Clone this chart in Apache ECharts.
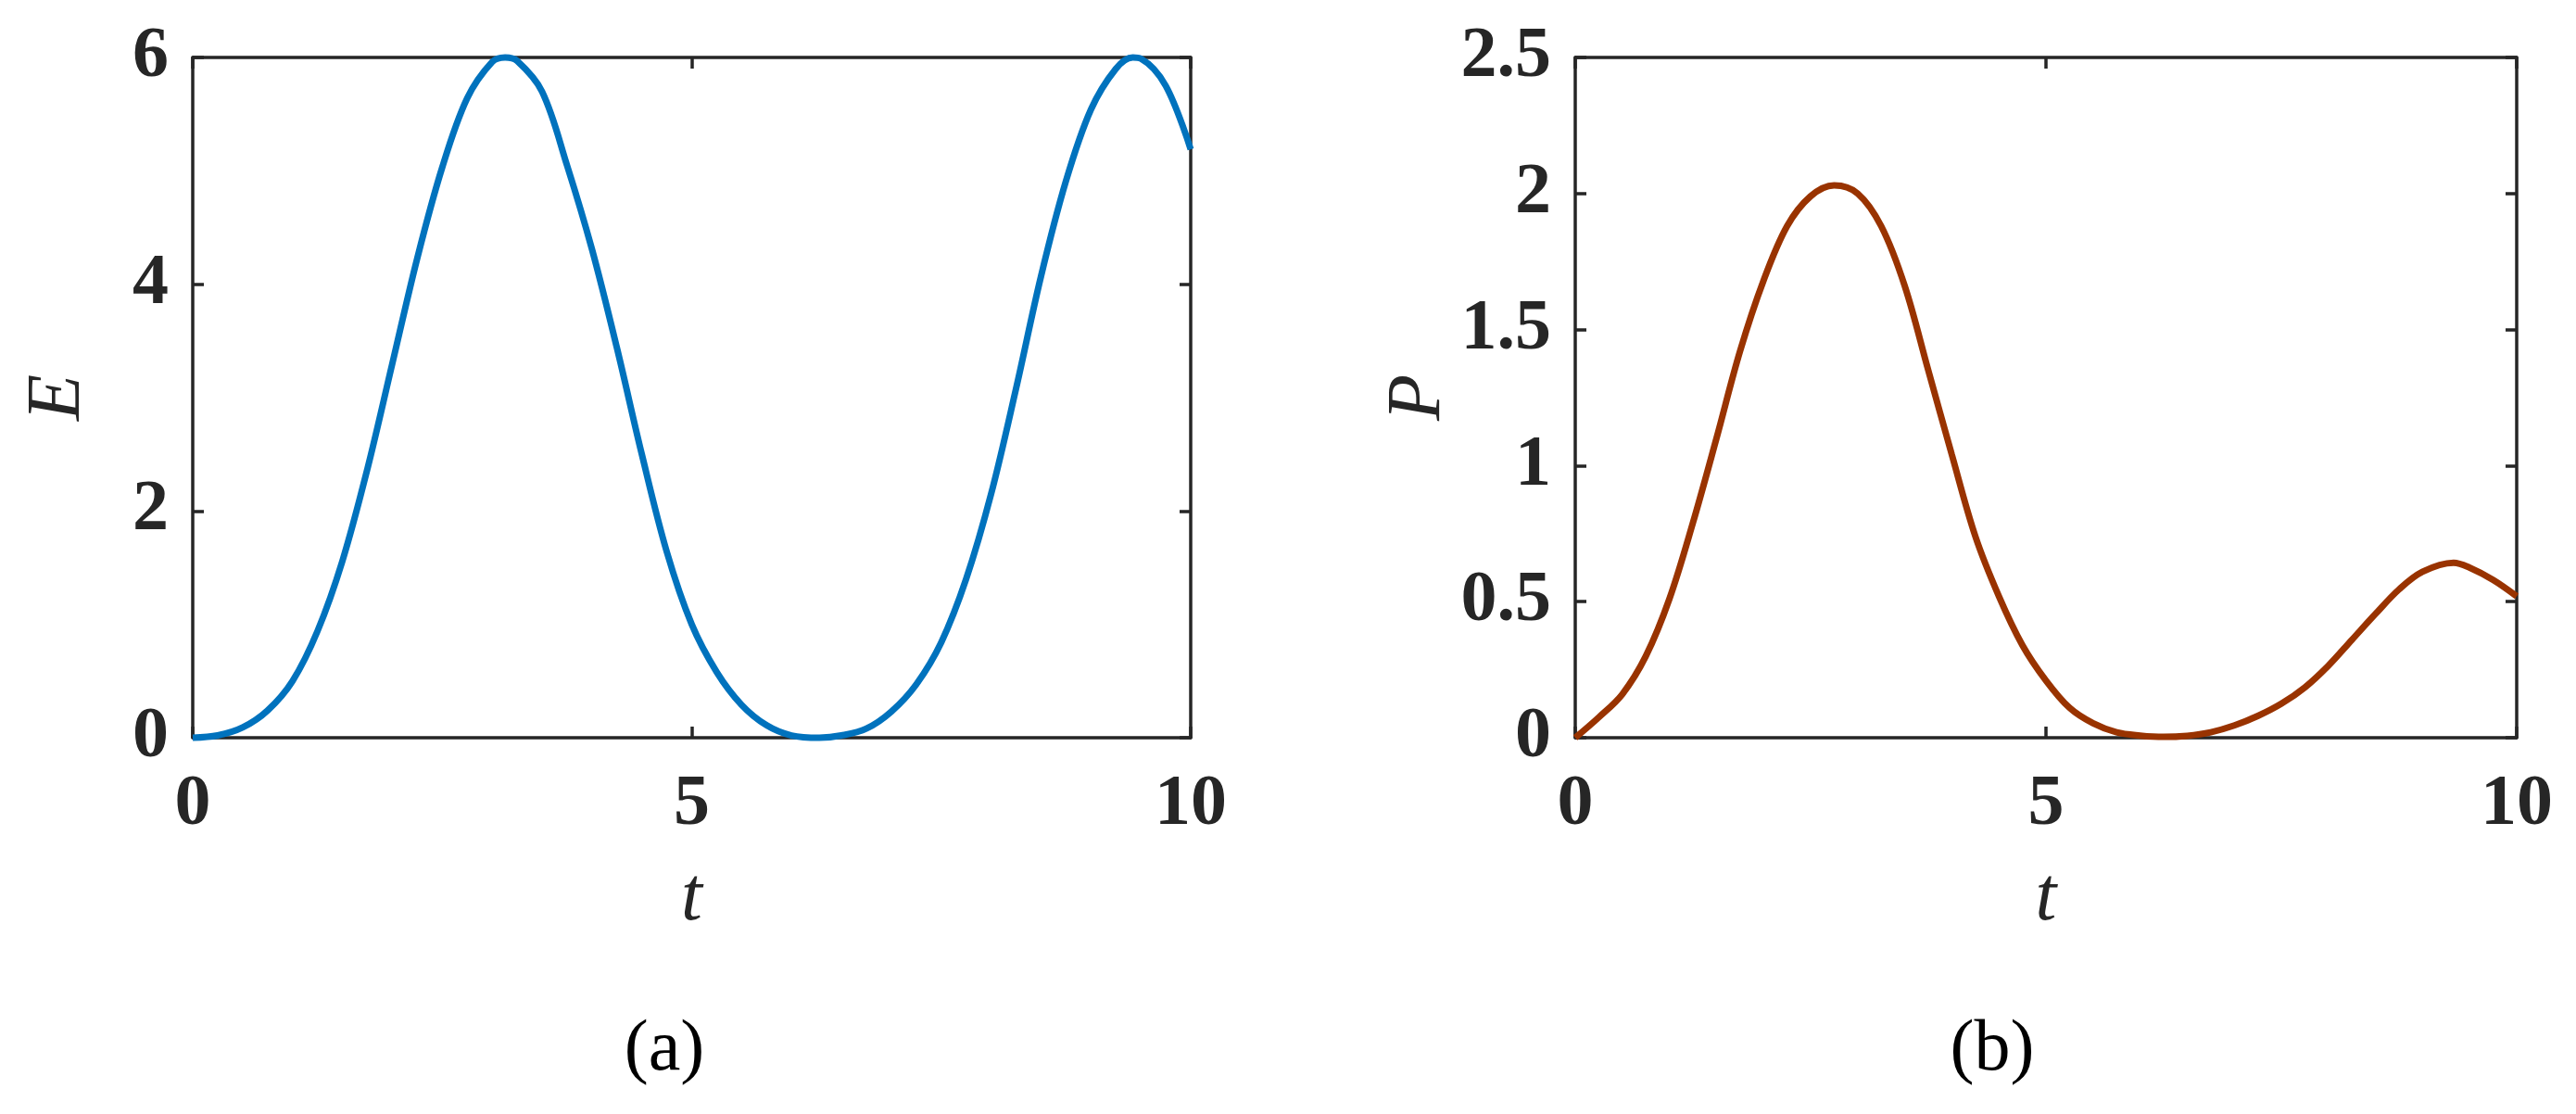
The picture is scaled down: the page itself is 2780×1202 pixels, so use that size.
<!DOCTYPE html>
<html>
<head>
<meta charset="utf-8">
<script src="https://cdn.jsdelivr.net/npm/echarts@6/dist/echarts.min.js"></script>
<style>
html,body{margin:0;padding:0;background:#fff;}
#chart{width:2780px;height:1202px;}
</style>
</head>
<body>
<div id="chart"></div>
<script>
// ---- data ----
const tE = [0,0.25,0.5,0.75,1,1.25,1.5,1.75,2,2.25,2.5,2.75,3,3.13,3.25,3.5,3.75,4,4.25,4.5,4.75,5,
            5.25,5.5,5.75,6,6.28,6.5,6.75,7,7.25,7.5,7.75,8,8.25,8.5,8.75,9,9.25,9.42,9.5,9.75,10];
const eValues = [0,0.02,0.09,0.24,0.50,0.94,1.56,2.37,3.30,4.23,5.03,5.64,5.96,6.00,5.97,5.70,5.05,4.31,3.44,2.50,1.64,1.00,
                 0.58,0.29,0.11,0.02,0.00,0.02,0.08,0.23,0.47,0.84,1.40,2.15,3.08,4.07,4.91,5.54,5.90,6.00,5.99,5.75,5.19];
const tP = [0,0.25,0.5,0.75,1,1.25,1.5,1.75,2,2.25,2.5,2.75,3,3.25,3.5,3.75,4,4.25,4.5,4.75,5,
            5.25,5.5,5.75,6,6.25,6.5,6.75,7,7.25,7.5,7.75,8,8.25,8.5,8.75,9,9.33,9.5,9.75,10];
const pValues = [0,0.075,0.16,0.30,0.51,0.79,1.10,1.42,1.68,1.88,1.99,2.03,2.00,1.88,1.66,1.35,1.04,0.74,0.52,0.34,0.21,
                 0.11,0.053,0.02,0.008,0.003,0.007,0.02,0.045,0.08,0.125,0.185,0.265,0.36,0.455,0.545,0.61,0.643,0.625,0.58,0.52];
const xTicks = [0,5,10];
const eTicks = [0,2,4,6];
const pTicks = [0,0.5,1,1.5,2,2.5];
const panelLabels = ['(a)','(b)'];
const yNames = ['E','P'];
const xName = 't';

const ink = '#262626';
const tickFont = {fontFamily:'"Liberation Serif", serif', fontWeight:'bold', fontSize:78, color:ink};

function mainX(gi){
  return {gridIndex:gi, type:'value', min:xTicks[0], max:xTicks[xTicks.length-1], interval:xTicks[1]-xTicks[0],
    name:xName, nameLocation:'middle', nameGap:133,
    nameTextStyle:{fontFamily:'"Liberation Serif", serif', fontStyle:'italic', fontSize:82, color:ink},
    axisLine:{show:true, onZero:false, lineStyle:{color:ink, width:3.5}},
    axisTick:{show:true, inside:true, length:12, lineStyle:{color:ink, width:3.5}},
    axisLabel:Object.assign({margin:34}, tickFont),
    splitLine:{show:false}};
}
function mirrorX(gi){
  return {gridIndex:gi, type:'value', position:'top', min:xTicks[0], max:xTicks[xTicks.length-1], interval:xTicks[1]-xTicks[0],
    axisLine:{show:true, onZero:false, lineStyle:{color:ink, width:3.5}},
    axisTick:{show:true, inside:true, length:12, lineStyle:{color:ink, width:3.5}},
    axisLabel:{show:false}, splitLine:{show:false}};
}
function mainY(gi, ticks, name, gap){
  return {gridIndex:gi, type:'value', min:ticks[0], max:ticks[ticks.length-1], interval:ticks[1]-ticks[0],
    name:name, nameLocation:'middle', nameGap:gap, nameRotate:90,
    nameTextStyle:{fontFamily:'"Liberation Serif", serif', fontStyle:'italic', fontSize:82, color:ink},
    axisLine:{show:true, onZero:false, lineStyle:{color:ink, width:3.5}},
    axisTick:{show:true, inside:true, length:12, lineStyle:{color:ink, width:3.5}},
    axisLabel:Object.assign({margin:26}, tickFont),
    splitLine:{show:false}};
}
function mirrorY(gi, ticks){
  return {gridIndex:gi, type:'value', position:'right', min:ticks[0], max:ticks[ticks.length-1], interval:ticks[1]-ticks[0],
    axisLine:{show:true, onZero:false, lineStyle:{color:ink, width:3.5}},
    axisTick:{show:true, inside:true, length:12, lineStyle:{color:ink, width:3.5}},
    axisLabel:{show:false}, splitLine:{show:false}};
}

const chart = echarts.init(document.getElementById('chart'), null, {renderer:'canvas'});
chart.setOption({
  backgroundColor:'#ffffff',
  animation:false,
  grid:[
    {left:208, top:62, width:1077, height:734},
    {left:1700, top:62, width:1016, height:734}
  ],
  xAxis:[mainX(0), mirrorX(0), mainX(1), mirrorX(1)],
  yAxis:[mainY(0, eTicks, yNames[0], 104), mirrorY(0, eTicks), mainY(1, pTicks, yNames[1], 112), mirrorY(1, pTicks)],
  series:[
    {type:'line', xAxisIndex:0, yAxisIndex:0, data:tE.map((t,i)=>[t,eValues[i]]),
     showSymbol:false, smooth:0.35, clip:false, lineStyle:{color:'#0072BD', width:7}, z:5},
    {type:'line', xAxisIndex:2, yAxisIndex:2, data:tP.map((t,i)=>[t,pValues[i]]),
     showSymbol:false, smooth:0.35, clip:false, lineStyle:{color:'#993300', width:7}, z:5}
  ],
  graphic:[
    {type:'text', x:717, y:1134, style:{text:panelLabels[0], font:'78px "Liberation Serif", serif', fill:'#000', textAlign:'center', textVerticalAlign:'middle'}},
    {type:'text', x:2150, y:1134, style:{text:panelLabels[1], font:'78px "Liberation Serif", serif', fill:'#000', textAlign:'center', textVerticalAlign:'middle'}}
  ]
});
</script>
</body>
</html>
